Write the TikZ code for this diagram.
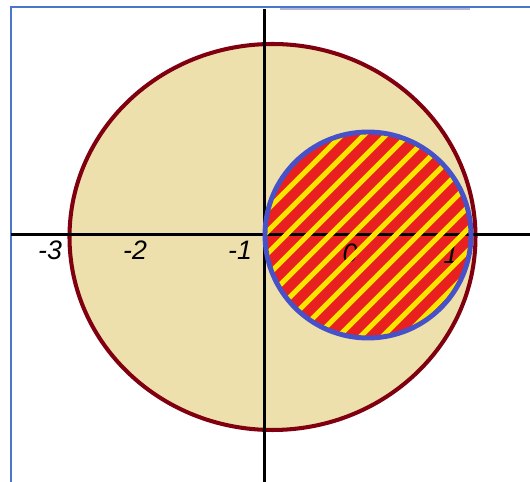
\documentclass[tikz,border=0pt]{standalone}
\usepackage{fontspec}
\setmainfont{Liberation Sans}
\definecolor{discfill}{RGB}{238,224,172}
\definecolor{discline}{RGB}{128,0,16}
\definecolor{setred}{RGB}{232,32,32}
\definecolor{setblue}{RGB}{72,82,200}
\definecolor{setyellow}{RGB}{255,228,0}
\definecolor{framecol}{RGB}{72,120,204}
\tikzset{
  axisline/.style={line width=0.85pt,black},
  ticklabel/.style={font=\fontsize{7.6}{9}\selectfont\itshape,inner sep=0pt},
  hatchline/.style={line width=1.5pt,setyellow,line cap=round}
}
\begin{document}
\begin{tikzpicture}
  \useasboundingbox (-2.65,-2.47) rectangle (2.65,2.35);
  % frame
  \draw[framecol,line width=0.6pt] (-2.54,-2.47) -- (-2.54,2.28) -- (2.65,2.28);
  \draw[blue!30!gray!45,line width=0.6pt] (0.15,2.26) -- (2.05,2.26);
  % big disc |z| < 3
  \filldraw[fill=discfill,draw=discline,line width=1.15pt] (0.075,-0.02) ellipse (2.03 and 1.93);
  % small disc
  \fill[setred] (1.03,0) circle (1.03);
  % axes
  \draw[axisline] (-2.54,0) -- (2.65,0);
  \draw[axisline] (0,2.26) -- (0,-2.47);
  % labels
  \node[ticklabel] (m3) at (-2.15,-0.15) {-3};
  \node[ticklabel] (m2) at (-1.30,-0.15) {-2};
  \node[ticklabel] (m1) at (-0.25,-0.15) {-1};
  \node[ticklabel] (z0) at (0.85,-0.18) {0};
  \node[ticklabel] (p1) at (1.86,-0.19) {1};
  % hatching
  \begin{scope}
    \clip (1.03,0) circle (1.01);
    \foreach \k in {-8,...,12}
      \draw[hatchline] ({0.43+0.22*\k-1.2},-1.2) -- ({0.43+0.22*\k+1.2},1.2);
  \end{scope}
  \draw[setblue,line width=1.4pt] (1.03,0) circle (1.03);
\end{tikzpicture}
\end{document}
